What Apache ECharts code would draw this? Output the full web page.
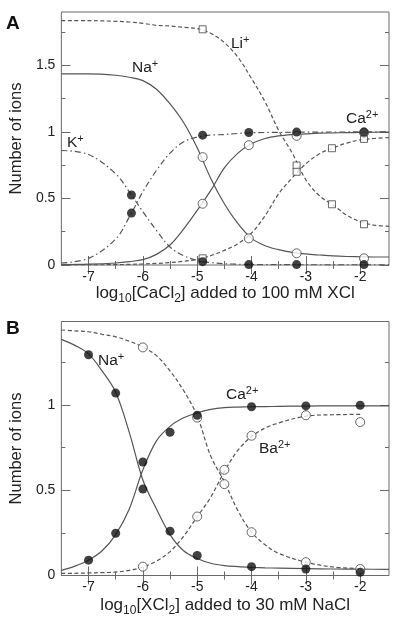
<!DOCTYPE html>
<html>
<head>
<meta charset="utf-8">
<script src="https://cdn.jsdelivr.net/npm/echarts@6/dist/echarts.min.js"></script>
<style>
html,body{margin:0;padding:0;background:#fff;}
#c{width:394px;height:620px;}
</style>
</head>
<body>
<div id="c"></div>
<script>
// ---------- Panel A data ----------
const topCurveX = [-7.5,-7,-6.5,-6.25,-6,-5.75,-5.5,-5.25,-5,-4.75,-4.5,-4.25,-4,-3.75,-3.5,-3.25,-3,-2.75,-2.5,-2.25,-2,-1.75,-1.47];
const topNaFit   = [1.435,1.435,1.425,1.41,1.385,1.32,1.21,1.07,0.88,0.65,0.46,0.31,0.20,0.145,0.115,0.095,0.083,0.075,0.068,0.064,0.062,0.06,0.06];
const topCaNaFit = [0.003,0.006,0.015,0.025,0.04,0.08,0.15,0.27,0.41,0.56,0.73,0.84,0.91,0.95,0.97,0.98,0.985,0.99,0.992,0.994,0.995,0.997,0.998];
const topKFit    = [0.86,0.83,0.685,0.55,0.40,0.26,0.135,0.07,0.035,0.018,0.01,0.006,0.004,0.003,0.003,0.002,0.002,0.002,0.001,0.001,0.001,0.001,0.001];
const topCaKFit  = [0.015,0.05,0.195,0.36,0.55,0.71,0.84,0.925,0.96,0.975,0.98,0.988,0.993,0.995,0.996,0.997,0.998,0.998,0.999,0.999,1.0,1.0,1.0];
const topLiFit   = [1.835,1.835,1.83,1.825,1.815,1.80,1.795,1.785,1.775,1.74,1.67,1.56,1.40,1.225,1.01,0.84,0.64,0.52,0.45,0.375,0.325,0.30,0.29];
const topCaLiFit = [0,0.001,0.003,0.005,0.008,0.012,0.018,0.028,0.042,0.07,0.11,0.16,0.24,0.37,0.535,0.655,0.76,0.835,0.88,0.915,0.94,0.95,0.957];

const topNaPtX = [-4.9,-4.05,-3.17,-1.93];
const topNaPt   = [0.81,0.20,0.088,0.05];
const topCaNaPt = [0.46,0.90,0.97,0.995];
const topKPtX = [-6.21,-4.9,-4.05,-3.17,-1.93];
const topKPt    = [0.526,0.025,0.003,0.003,0.003];
const topCaKPt  = [0.39,0.975,0.995,0.998,0.998];
const topLiPtX = [-4.9,-3.17,-2.52,-1.93];
const topLiPt   = [1.77,0.747,0.456,0.306];
const topCaLiPt = [0.05,0.70,0.877,0.947];

// ---------- Panel B data ----------
const botCurveX = [-7.5,-7.25,-7,-6.75,-6.5,-6.25,-6,-5.75,-5.5,-5.25,-5,-4.75,-4.5,-4.25,-4,-3.75,-3.5,-3,-2.5,-2,-1.47];
const botNaCaFit = [1.385,1.35,1.30,1.20,1.075,0.84,0.56,0.39,0.24,0.145,0.10,0.072,0.058,0.052,0.048,0.045,0.043,0.04,0.038,0.037,0.036];
const botCaFit   = [0.03,0.055,0.09,0.145,0.24,0.39,0.62,0.79,0.875,0.925,0.955,0.975,0.985,0.988,0.99,0.991,0.992,0.994,0.995,0.995,0.995];
const botNaBaFit = [1.44,1.435,1.43,1.415,1.40,1.375,1.34,1.29,1.20,1.085,0.935,0.70,0.55,0.38,0.255,0.18,0.13,0.078,0.05,0.04,null];
const botBaFit   = [0.012,0.013,0.015,0.017,0.02,0.03,0.05,0.085,0.14,0.23,0.345,0.46,0.61,0.735,0.815,0.865,0.895,0.935,0.943,0.945,null];

const botCaPtX = [-7,-6.5,-6,-5.5,-5,-4,-3,-2];
const botNaCaPt = [1.295,1.07,0.507,0.26,0.117,0.052,0.038,0.019];
const botCaPt   = [0.09,0.248,0.666,0.84,0.94,0.99,0.995,0.999];
const botBaPtX = [-6,-5,-4.5,-4,-3,-2];
const botNaBaPt = [1.338,0.926,0.536,0.254,0.078,0.038];
const botBaPt   = [0.052,0.346,0.62,0.82,0.94,0.90];

// ---------- Ticks ----------
const xMajor = [-7,-6,-5,-4,-3,-2];
const xMinor = [-6.5,-5.5,-4.5,-3.5,-2.5];
const yMajorA = [0,0.5,1,1.5];
const yMinorA = [0.25,0.75,1.25,1.75];
const yMajorB = [0,0.5,1];
const yMinorB = [0.25,0.75,1.25];

const X_MIN = -7.5, X_MAX = -1.47;
const FRAME = '#6a6a6a';
const LINE = '#555';
const TXT = '#222';
const FONT = 'Liberation Sans, Arial, sans-serif';

function pairs(xs, ys){ const out=[]; xs.forEach((x,i)=>{ if(ys[i]!==null && ys[i]!==undefined) out.push([x,ys[i]]); }); return out; }

function xAxes(g, title){
  const base = {gridIndex:g, type:'value', min:X_MIN, max:X_MAX, axisLine:{show:false}, splitLine:{show:false}};
  return [
    Object.assign({}, base, {position:'bottom',
      axisTick:{show:true, inside:true, length:9, customValues:xMajor, lineStyle:{color:FRAME}},
      axisLabel:{show:true, customValues:xMajor, fontSize:14, color:TXT, margin:5, fontFamily:FONT},
      name:title.text, nameLocation:'middle', nameGap:title.gap,
      nameTextStyle:{color:TXT, fontFamily:FONT, rich:{
        n:{fontSize:17, lineHeight:22, color:TXT, fontFamily:FONT},
        s:{fontSize:12, lineHeight:11, verticalAlign:'bottom', color:TXT, fontFamily:FONT}}}
    }),
    Object.assign({}, base, {position:'bottom',
      axisTick:{show:true, inside:true, length:4, customValues:xMinor, lineStyle:{color:FRAME}},
      axisLabel:{show:false}}),
    Object.assign({}, base, {position:'top',
      axisTick:{show:true, inside:true, length:9, customValues:xMajor, lineStyle:{color:FRAME}},
      axisLabel:{show:false}}),
    Object.assign({}, base, {position:'top',
      axisTick:{show:true, inside:true, length:4, customValues:xMinor, lineStyle:{color:FRAME}},
      axisLabel:{show:false}})
  ];
}
function yAxes(g, ymax, major, minor){
  const base = {gridIndex:g, type:'value', min:0, max:ymax, axisLine:{show:false}, splitLine:{show:false}};
  return [
    Object.assign({}, base, {position:'left',
      axisTick:{show:true, inside:true, length:9, customValues:major, lineStyle:{color:FRAME}},
      axisLabel:{show:true, customValues:major, fontSize:14, color:TXT, margin:6, fontFamily:FONT},
      name:'Number of ions', nameLocation:'middle', nameGap:31, nameRotate:90,
      nameTextStyle:{fontSize:16.5, color:TXT, fontFamily:FONT}}),
    Object.assign({}, base, {position:'left',
      axisTick:{show:true, inside:true, length:4, customValues:minor, lineStyle:{color:FRAME}},
      axisLabel:{show:false}}),
    Object.assign({}, base, {position:'right',
      axisTick:{show:true, inside:true, length:9, customValues:major, lineStyle:{color:FRAME}},
      axisLabel:{show:false}}),
    Object.assign({}, base, {position:'right',
      axisTick:{show:true, inside:true, length:4, customValues:minor, lineStyle:{color:FRAME}},
      axisLabel:{show:false}})
  ];
}

const DASH = [4,2.5];
const DASHDOT = [6,3,1.5,3];
function fit(xi, yi, xs, ys, type){
  return {type:'line', xAxisIndex:xi, yAxisIndex:yi, data:pairs(xs,ys), showSymbol:false, symbol:'none',
    smooth:0.35, silent:true, z:2,
    lineStyle:{color:LINE, width:1.2, type:type}};
}
function pts(xi, yi, xs, ys, kind){
  const s = {type:'scatter', xAxisIndex:xi, yAxisIndex:yi, data:pairs(xs,ys), silent:true, z:5};
  if(kind==='filled'){ s.symbol='circle'; s.symbolSize=9; s.itemStyle={color:'#111'}; s.z=6; }
  else if(kind==='open'){ s.symbol='circle'; s.symbolSize=9; s.itemStyle={color:'#fff', borderColor:'#444', borderWidth:1}; }
  else { s.symbol='rect'; s.symbolSize=7; s.itemStyle={color:'#fff', borderColor:'#444', borderWidth:1}; }
  return s;
}

const option = {
  animation:false,
  backgroundColor:'#fff',
  grid:[
    {left:51, top:12, width:338, height:253, show:true, borderColor:FRAME, borderWidth:1, backgroundColor:'transparent'},
    {left:51, top:321.5, width:338, height:254, show:true, borderColor:FRAME, borderWidth:1, backgroundColor:'transparent'}
  ],
  xAxis: [].concat(
    xAxes(0, {text:'{n|log}{s|10}{n|[CaCl}{s|2}{n|] added to 100 mM XCl}', gap:16}),
    xAxes(1, {text:'{n|log}{s|10}{n|[XCl}{s|2}{n|] added to 30 mM NaCl}', gap:19})
  ),
  yAxis: [].concat(
    yAxes(0, 1.9, yMajorA, yMinorA),
    yAxes(1, 1.49, yMajorB, yMinorB)
  ),
  series: [
    fit(0,0, topCurveX, topNaFit, 'solid'),
    fit(0,0, topCurveX, topCaNaFit, 'solid'),
    fit(0,0, topCurveX, topKFit, DASHDOT),
    fit(0,0, topCurveX, topCaKFit, DASHDOT),
    fit(0,0, topCurveX, topLiFit, DASH),
    fit(0,0, topCurveX, topCaLiFit, DASH),
    pts(0,0, topLiPtX, topLiPt, 'square'),
    pts(0,0, topLiPtX, topCaLiPt, 'square'),
    pts(0,0, topNaPtX, topNaPt, 'open'),
    pts(0,0, topNaPtX, topCaNaPt, 'open'),
    pts(0,0, topKPtX, topKPt, 'filled'),
    pts(0,0, topKPtX, topCaKPt, 'filled'),
    fit(4,4, botCurveX, botNaCaFit, 'solid'),
    fit(4,4, botCurveX, botCaFit, 'solid'),
    fit(4,4, botCurveX, botNaBaFit, DASH),
    fit(4,4, botCurveX, botBaFit, DASH),
    pts(4,4, botBaPtX, botNaBaPt, 'open'),
    pts(4,4, botBaPtX, botBaPt, 'open'),
    pts(4,4, botCaPtX, botNaCaPt, 'filled'),
    pts(4,4, botCaPtX, botCaPt, 'filled')
  ],
  graphic: (function(){
    const rich = {
      b:{fontSize:15.5, lineHeight:20, fill:TXT, fontFamily:FONT},
      p:{fontSize:11, lineHeight:10, verticalAlign:'top', fill:TXT, fontFamily:FONT}
    };
    function lab(x,y,t){ return {type:'text', left:x, top:y, z:20, silent:true, style:{text:t, rich:rich, fill:TXT}}; }
    return [
      {type:'text', left:6, top:14, z:20, silent:true, style:{text:'A', fontSize:19, fontWeight:'bold', fill:'#111', fontFamily:FONT}},
      {type:'text', left:6, top:319, z:20, silent:true, style:{text:'B', fontSize:19, fontWeight:'bold', fill:'#111', fontFamily:FONT}},
      lab(132, 58, '{b|Na}{p|+}'),
      lab(231, 34, '{b|Li}{p|+}'),
      lab(346, 109, '{b|Ca}{p|2+}'),
      lab(67, 133, '{b|K}{p|+}'),
      lab(98, 351, '{b|Na}{p|+}'),
      lab(226, 385, '{b|Ca}{p|2+}'),
      lab(259, 439, '{b|Ba}{p|2+}')
    ];
  })()
};

const chart = echarts.init(document.getElementById('c'), null, {renderer:'canvas'});
chart.setOption(option);
</script>
</body>
</html>
